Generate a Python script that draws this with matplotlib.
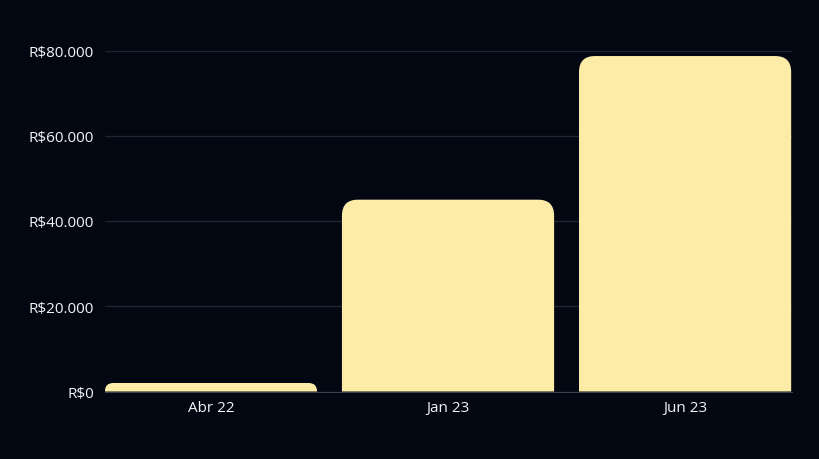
import matplotlib
matplotlib.use("Agg")
import matplotlib.pyplot as plt
from matplotlib.path import Path
from matplotlib.patches import PathPatch
from matplotlib.ticker import FuncFormatter

categories = ["Abr 22", "Jan 23", "Jun 23"]
values = [2000, 45000, 78700]
yticks = [0, 20000, 40000, 60000, 80000]

BG = "#030712"
BAR = "#FDECA8"
TXT = "#F3F4F6"
GRID = "#1F2530"

plt.rcParams['font.family'] = ['Open Sans', 'DejaVu Sans']

fig = plt.figure(figsize=(8.2, 4.6), dpi=100, facecolor=BG)
ax = fig.add_axes([105/820, 67.5/460, 687/820, 341/460], facecolor=BG)

x = list(range(len(categories)))
bars = ax.bar(x, values, width=0.895, color=BAR, linewidth=0)
ax.set_xlim(-0.447, len(categories) - 1 + 0.451)
ax.set_ylim(0, 80000)

# Replace bars by rounded-top versions
fig.canvas.draw()
inv = ax.transData.inverted()
r_px = 16
for b in bars:
    x0, y0 = b.get_x(), b.get_y()
    w, h = b.get_width(), b.get_height()
    p0 = ax.transData.transform((x0, y0))
    p1 = ax.transData.transform((x0 + w, y0 + h))
    hp = p1[1] - p0[1]
    r = min(r_px, hp, (p1[0] - p0[0]) / 2)
    pts_px = [
        (p0[0], p0[1]),
        (p0[0], p1[1] - r),
        (p0[0], p1[1]),
        (p0[0] + r, p1[1]),
        (p1[0] - r, p1[1]),
        (p1[0], p1[1]),
        (p1[0], p1[1] - r),
        (p1[0], p0[1]),
        (p0[0], p0[1]),
    ]
    codes = [Path.MOVETO, Path.LINETO, Path.CURVE3, Path.CURVE3, Path.LINETO,
             Path.CURVE3, Path.CURVE3, Path.LINETO, Path.CLOSEPOLY]
    pts = inv.transform(pts_px)
    patch = PathPatch(Path(pts, codes), facecolor=BAR, edgecolor="none", zorder=3)
    ax.add_patch(patch)
    b.set_visible(False)

ax.set_yticks(yticks)
ax.yaxis.set_major_formatter(FuncFormatter(lambda v, p: "R$" + f"{int(v):,}".replace(",", ".")))
ax.set_xticks(x)
ax.set_xticklabels(categories)
ax.tick_params(axis="both", length=0, colors=TXT, labelsize=11)
ax.tick_params(axis="y", pad=8)
ax.tick_params(axis="x", pad=6)
ax.grid(axis="y", color=GRID, linewidth=1, zorder=0)
ax.set_axisbelow(True)
for s in ["top", "right", "left"]:
    ax.spines[s].set_visible(False)
ax.spines["bottom"].set_color("#374151")
ax.spines["bottom"].set_zorder(4)

fig.savefig("out.png", dpi=100, facecolor=BG)
